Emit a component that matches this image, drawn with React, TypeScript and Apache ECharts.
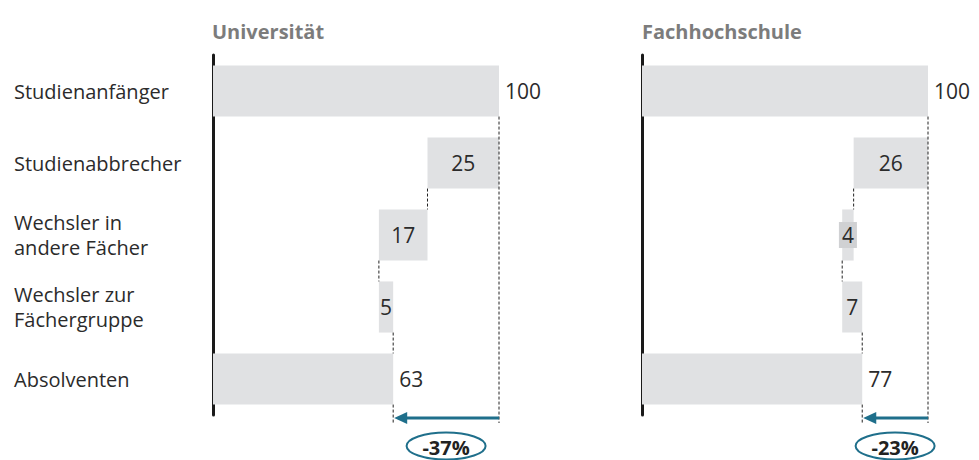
import React, { useEffect, useRef } from "react";
import * as echarts from "echarts";

const categories = [
  "Studienanfänger",
  "Studienabbrecher",
  "Wechsler in\nandere Fächer",
  "Wechsler zur\nFächergruppe",
  "Absolventen",
];
const panelTitles = ["Universität", "Fachhochschule"];
const uniValues = [100, -25, -17, 5, 63];
const fhValues = [100, -26, -4, 7, 77];
const isTotal = [true, false, false, false, true];

const FONT = "'Open Sans', 'Noto Sans', sans-serif";
const BAR = "#e0e1e3";
const TEAL = "#1f6f8b";
const TEXT = "#2b2b2b";

function waterfall(values: number[]) {
  let running = 0;
  const base: number[] = [];
  const size: number[] = [];
  const ends: number[] = [];
  values.forEach((v, i) => {
    const start = isTotal[i] ? 0 : running;
    const end = isTotal[i] ? v : running + v;
    running = end;
    base.push(Math.min(start, end));
    size.push(Math.abs(end - start));
    ends.push(end);
  });
  return { base, size, ends };
}

function buildPanel(values: number[], idx: number) {
  const { base, size, ends } = waterfall(values);
  const n = values.length;
  const connectors: number[][] = [];
  for (let i = 0; i < n - 1; i++) {
    connectors.push([ends[i], i, i === 0 ? -1 : i + 1]);
  }
  connectors.push([ends[n - 1], n - 1, -1]);
  const start = values[0];
  const final = values[n - 1];
  const pct = Math.round(((final - start) / start) * 100);

  const series: any[] = [
    {
      type: "bar",
      xAxisIndex: idx,
      yAxisIndex: idx,
      stack: "wf" + idx,
      data: base,
      itemStyle: { color: "transparent" },
      silent: true,
      barWidth: "71%",
    },
    {
      type: "bar",
      xAxisIndex: idx,
      yAxisIndex: idx,
      stack: "wf" + idx,
      barWidth: "71%",
      itemStyle: { color: BAR },
      data: size.map((s, i) => ({
        value: s,
        label: {
          show: true,
          position: isTotal[i] ? "right" : "inside",
          distance: 6,
          fontFamily: FONT,
          fontSize: 21,
          color: TEXT,
          ...(s < 5
            ? { backgroundColor: "#d0d1d3", padding: [3, 3, 2, 3] }
            : {}),
        },
      })),
    },
    {
      type: "custom",
      xAxisIndex: idx,
      yAxisIndex: idx,
      encode: { x: 0, y: 1 },
      data: connectors,
      z: 5,
      renderItem: (params: any, api: any) => {
        const x = api.value(0);
        const from = api.value(1);
        const to = api.value(2);
        const band = api.size([0, 1])[1];
        const half = band * 0.355;
        const p0 = api.coord([x, from]);
        const yStart = p0[1] + half;
        const yEnd =
          to < 0
            ? api.coord([x, n - 1])[1] + band / 2 + 8
            : api.coord([x, to])[1] - half;
        return {
          type: "line",
          shape: { x1: p0[0], y1: yStart, x2: p0[0], y2: yEnd },
          style: { stroke: "#222", lineWidth: 1, lineDash: [3, 2] },
        };
      },
    },
    {
      type: "custom",
      xAxisIndex: idx,
      yAxisIndex: idx,
      encode: { x: 0, y: 2 },
      data: [[final, start, n - 1]],
      z: 6,
      renderItem: (params: any, api: any) => {
        const band = api.size([0, 1])[1];
        const pEnd = api.coord([api.value(0), n - 1]);
        const pStart = api.coord([api.value(1), n - 1]);
        const y = pEnd[1] + band / 2 + 3;
        const xe = pEnd[0];
        const xs = pStart[0];
        const cx = (xs + xe) / 2;
        const cy = y + 28;
        return {
          type: "group",
          children: [
            {
              type: "line",
              shape: { x1: xs, y1: y, x2: xe + 10, y2: y },
              style: { stroke: TEAL, lineWidth: 3 },
            },
            {
              type: "polygon",
              shape: {
                points: [
                  [xe + 1, y],
                  [xe + 14, y - 6],
                  [xe + 14, y + 6],
                ],
              },
              style: { fill: TEAL },
            },
            {
              type: "ellipse",
              shape: { cx, cy, rx: 39.5, ry: 13.5 },
              style: { fill: "#fff", stroke: TEAL, lineWidth: 2 },
            },
            {
              type: "text",
              x: cx,
              y: cy + 1,
              style: {
                text: (pct > 0 ? "+" : "") + pct + "%",
                align: "center",
                verticalAlign: "middle",
                fontFamily: FONT,
                fontSize: 20,
                fontWeight: "bold",
                fill: "#222",
              },
            },
          ],
        };
      },
    },
  ];
  return series;
}

export default function App() {
  const ref = useRef<HTMLDivElement>(null);
  useEffect(() => {
    if (!ref.current) return;
    const chart = echarts.init(ref.current, undefined, { renderer: "svg" });
    const grids = [
      { left: 213, top: 55, width: 286, height: 360 },
      { left: 642, top: 55, width: 286, height: 360 },
    ];
    chart.setOption({
      animation: false,
      backgroundColor: "#fff",
      title: panelTitles.map((t, i) => ({
        text: t,
        left: i === 0 ? 207 : 637,
        top: 16,
        textStyle: {
          fontFamily: FONT,
          fontSize: 20,
          fontWeight: "bold",
          color: "#7c7c7c",
        },
      })),
      grid: grids,
      xAxis: grids.map((_, i) => ({
        type: "value",
        gridIndex: i,
        min: 0,
        max: 100,
        show: false,
      })),
      yAxis: grids.map((_, i) => ({
        type: "category",
        gridIndex: i,
        inverse: true,
        data: categories,
        axisLine: { show: true, lineStyle: { color: "#1a1a1a", width: 3 } },
        axisTick: { show: false },
        splitLine: { show: false },
        axisLabel: {
          show: i === 0,
          align: "left",
          margin: 199,
          fontFamily: FONT,
          fontSize: 20,
          lineHeight: 25,
          color: TEXT,
        },
      })),
      series: [...buildPanel(uniValues, 0), ...buildPanel(fhValues, 1)],
    });
    return () => chart.dispose();
  }, []);
  return (
    <div
      ref={ref}
      style={{ position: "absolute", left: 0, top: 0, width: 979, height: 460 }}
    />
  );
}
